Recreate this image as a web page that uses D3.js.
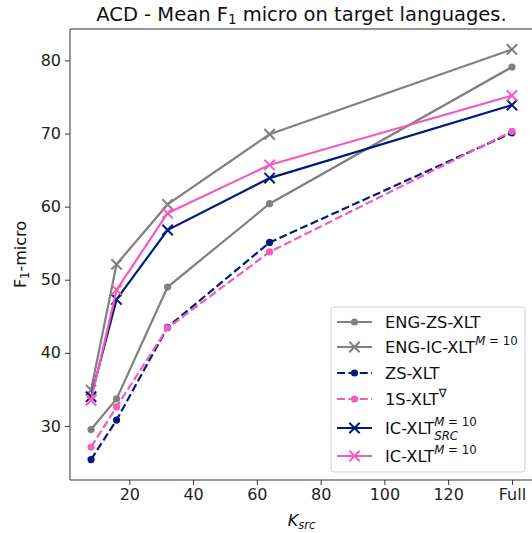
<!DOCTYPE html>
<html><head><meta charset="utf-8">
<script src="https://cdn.jsdelivr.net/npm/d3@7"></script>
<style>body{margin:0;background:#fff}svg{font-family:"DejaVu Sans",sans-serif}</style>
</head><body>
<script>
const xCats = ["8","16","32","64","Full"];
const xVals = [8,16,32,64,140];
const xTicks = [20,40,60,80,100,120,140];
const xTickLabels = ["20","40","60","80","100","120","Full"];
const yTicks = [30,40,50,60,70,80];
const engZS = [29.5,33.7,49.0,60.4,79.1];
const engIC = [34.9,52.1,60.3,69.9,81.5];
const zsXLT = [25.4,30.8,43.5,55.1,70.1];
const oneS = [27.1,32.6,43.4,53.8,70.3];
const icSRC = [34.0,47.3,56.8,63.9,73.9];
const icXLT = [33.5,48.6,59.1,65.7,75.2];

const GRAY="#808080", NAVY="#001a80", PINK="#f25cbb";
const series = [
 {name:"ENG-ZS-XLT", vals:engZS, color:GRAY, dash:false, marker:"dot"},
 {name:"ENG-IC-XLT", sup:"M = 10", vals:engIC, color:GRAY, dash:false, marker:"x"},
 {name:"ZS-XLT", vals:zsXLT, color:NAVY, dash:true, marker:"dot"},
 {name:"1S-XLT", sup:"∇", vals:oneS, color:PINK, dash:true, marker:"dot"},
 {name:"IC-XLT", sup:"M = 10", sub:"SRC", vals:icSRC, color:NAVY, dash:false, marker:"x"},
 {name:"IC-XLT", sup:"M = 10", vals:icXLT, color:PINK, dash:false, marker:"x"}
];

const W=532,H=533;
const L=70,R=533,T=29,B=480;
const svg=d3.select("body").append("svg").attr("width",W).attr("height",H);
const x=d3.scaleLinear().domain([1.4,146.6]).range([L,R]);
const y=d3.scaleLinear().domain([22.6,84.3]).range([B,T]);
const DASH="8,3.4";

const g=svg.append("g");
series.forEach(s=>{
  const pts=s.vals.map((v,i)=>[x(xVals[i]),y(v)]);
  g.append("path").attr("d",d3.line()(pts)).attr("fill","none").attr("stroke",s.color)
   .attr("stroke-width",2.2).attr("stroke-dasharray",s.dash?DASH:null);
  pts.forEach(p=>drawMarker(g,s,p[0],p[1]));
});
function drawMarker(sel,s,cx,cy){
  if(s.marker==="dot"){
    sel.append("circle").attr("cx",cx).attr("cy",cy).attr("r",3.6).attr("fill",s.color);
  } else {
    const r=5.2;
    sel.append("path").attr("d",`M${cx-r},${cy-r}L${cx+r},${cy+r}M${cx-r},${cy+r}L${cx+r},${cy-r}`)
      .attr("stroke",s.color).attr("stroke-width",2).attr("fill","none");
  }
}

// axes
const axCol="#333";
svg.append("line").attr("x1",L).attr("x2",L).attr("y1",T).attr("y2",B).attr("stroke",axCol);
svg.append("line").attr("x1",L).attr("x2",R).attr("y1",T).attr("y2",T).attr("stroke",axCol);
svg.append("line").attr("x1",L).attr("x2",R).attr("y1",B).attr("y2",B).attr("stroke",axCol);
const xa=d3.axisBottom(x).tickValues(xTicks).tickFormat((d,i)=>xTickLabels[i]).tickSize(5).tickPadding(4);
const xg=svg.append("g").attr("transform",`translate(0,${B})`).call(xa);
const ya=d3.axisLeft(y).tickValues(yTicks).tickSize(5).tickPadding(4);
const yg=svg.append("g").attr("transform",`translate(${L},0)`).call(ya);
[xg,yg].forEach(a=>{a.select(".domain").remove();a.selectAll("line").attr("stroke",axCol);
  a.selectAll("text").attr("font-family","DejaVu Sans").attr("font-size",16).attr("fill","#222");});

// title
const tt=svg.append("text").attr("x",(L+R)/2).attr("y",20.5).attr("text-anchor","middle").attr("font-size",19.5).attr("fill","#111");
tt.append("tspan").text("ACD - Mean F");
tt.append("tspan").text("1").attr("font-size",13.5).attr("dy",3.5);
tt.append("tspan").text(" micro on target languages.").attr("dy",-3.5);

// y label
const yl=svg.append("text").attr("transform",`translate(26,${(T+B)/2}) rotate(-90)`).attr("text-anchor","middle").attr("font-size",16).attr("fill","#111");
yl.append("tspan").text("F");
yl.append("tspan").text("1").attr("font-size",11.5).attr("dy",3);
yl.append("tspan").text("-micro").attr("dy",-3);

// x label
const xl=svg.append("text").attr("x",(L+R)/2).attr("y",526).attr("text-anchor","middle").attr("font-size",16).attr("fill","#111");
xl.append("tspan").text("K").attr("font-style","italic");
xl.append("tspan").text("src").attr("font-style","italic").attr("font-size",11.5).attr("dy",3);

// legend
const lg=svg.append("g");
lg.append("rect").attr("x",331).attr("y",307).attr("width",194).attr("height",165).attr("rx",3)
  .attr("fill","#fff").attr("fill-opacity",0.85).attr("stroke","#d0d0d0");
const rowsY=[322,347,373,399,428,456];
series.forEach((s,i)=>{
  const yy=rowsY[i];
  lg.append("line").attr("x1",337).attr("x2",372).attr("y1",yy).attr("y2",yy).attr("stroke",s.color)
    .attr("stroke-width",2.2).attr("stroke-dasharray",s.dash?DASH:null);
  drawMarker(lg,s,354.5,yy);
  const t=lg.append("text").attr("x",385).attr("y",yy+6).attr("font-size",16.3).attr("fill","#111");
  t.append("tspan").text(s.name);
  if(s.sup){
    const supEl=t.append("tspan").attr("font-size",11.8).attr("dy",-8);
    if(s.sup.startsWith("M")){
      supEl.append("tspan").text("M").attr("font-style","italic");
      supEl.append("tspan").text(" = 10");
    } else supEl.text(s.sup);
    if(s.sub){
      t.append("tspan").text(s.sub).attr("font-size",11.8).attr("font-style","italic").attr("class","subsrc");
    }
  }
});
lg.selectAll("tspan.subsrc").each(function(){
  const first=this.parentNode.firstChild;
  const w=first.getComputedTextLength();
  d3.select(this).attr("x",385+w).attr("dy",14);
});
</script>
</body></html>
